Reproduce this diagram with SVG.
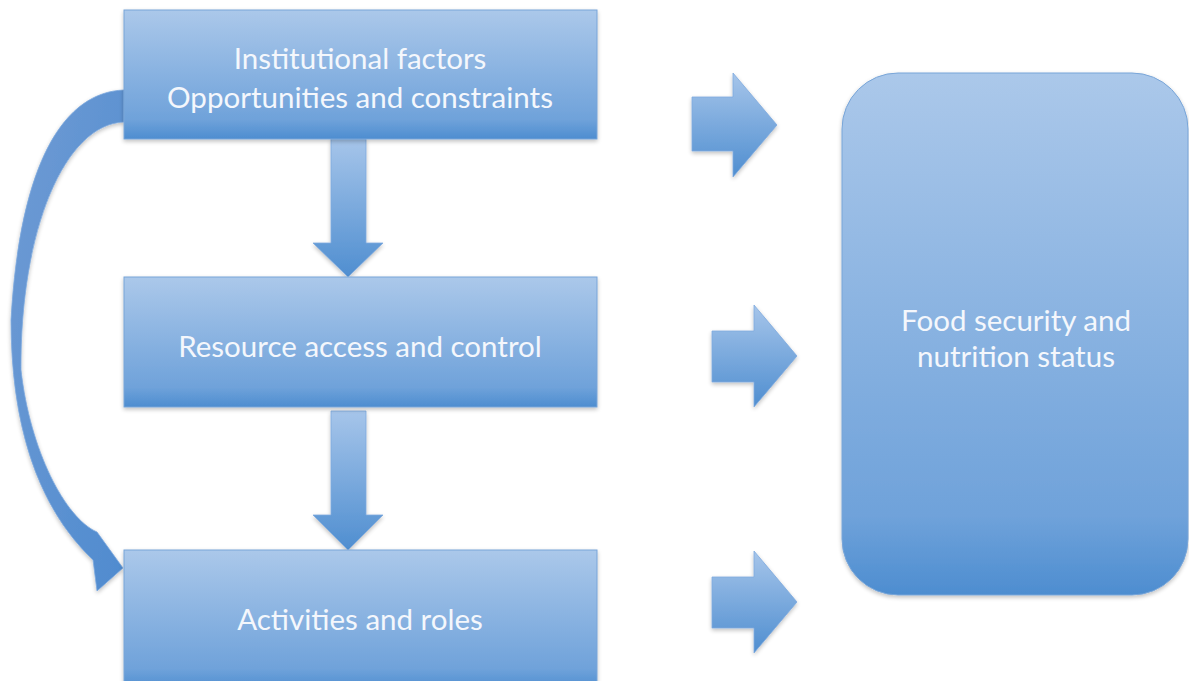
<svg xmlns="http://www.w3.org/2000/svg" width="1189" height="681" viewBox="0 0 1189 681">
<defs>
<linearGradient id="gBox" x1="0" y1="0" x2="0" y2="1">
<stop offset="0" stop-color="#abc8ea"/>
<stop offset="0.85" stop-color="#6fa2da"/>
<stop offset="1" stop-color="#4d8dd0"/>
</linearGradient>
<linearGradient id="gArr" x1="0" y1="0" x2="0" y2="1">
<stop offset="0" stop-color="#a6c5ea"/>
<stop offset="1" stop-color="#4f8ed0"/>
</linearGradient>
<linearGradient id="gCurve" x1="0" y1="0" x2="1" y2="1">
<stop offset="0" stop-color="#6f9bd4"/>
<stop offset="1" stop-color="#4f8bcf"/>
</linearGradient>
<filter id="sh" x="-10%" y="-10%" width="120%" height="130%">
<feGaussianBlur in="SourceAlpha" stdDeviation="2"/>
<feOffset dx="0" dy="2" result="b"/>
<feComponentTransfer><feFuncA type="linear" slope="0.25"/></feComponentTransfer>
<feMerge><feMergeNode/><feMergeNode in="SourceGraphic"/></feMerge>
</filter>
</defs>
<style>
.box{fill:url(#gBox);stroke:#78a5d8;stroke-width:1;filter:url(#sh)}
.arr{fill:url(#gArr);stroke:#7eaade;stroke-width:0.8;filter:url(#sh)}
.lbl{font-family:Lato,"Open Sans","Liberation Sans",sans-serif;font-size:29.5px;fill:#f4f7fc;text-anchor:middle}
</style>
<rect width="1189" height="681" fill="#ffffff"/>
<g id="connectors">
<path class="arr" style="fill:url(#gCurve)" d="M124,90 C65,92 20,160 11,320 C11,420 35,505 93,560 L97,591 L123,568 L97,532 C65,518 30,450 21,370 C20,230 65,124 124,122 Z"/>
<path class="arr" d="M331,139 L366,139 L366,243 L383,243 L348,277 L313,243 L331,243 Z"/>
<path class="arr" d="M331,411 L366,411 L366,515 L383,515 L348,550 L313,515 L331,515 Z"/>
<path class="arr" d="M692,97 L733,97 L733,73 L777,125 L733,177 L733,151 L692,151 Z"/>
<path class="arr" d="M712,331 L754,331 L754,305 L797,356 L754,407 L754,382 L712,382 Z"/>
<path class="arr" d="M712,577 L754,577 L754,551 L797,602 L754,653 L754,628 L712,628 Z"/>
</g>
<g id="node-institutional">
<rect class="box" x="124" y="10" width="473" height="129"/>
<text class="lbl" x="360" y="69">Institutional factors</text>
<text class="lbl" x="360" y="108">Opportunities and constraints</text>
</g>
<g id="node-resource">
<rect class="box" x="124" y="277" width="473" height="130"/>
<text class="lbl" x="360" y="357">Resource access and control</text>
</g>
<g id="node-activities">
<rect class="box" x="124" y="550" width="473" height="140"/>
<text class="lbl" x="360" y="630">Activities and roles</text>
</g>
<g id="node-food">
<rect class="box" x="842" y="73" width="346" height="522" rx="56" ry="56"/>
<text class="lbl" x="1016" y="331">Food security and</text>
<text class="lbl" x="1016" y="367">nutrition status</text>
</g>
</svg>
